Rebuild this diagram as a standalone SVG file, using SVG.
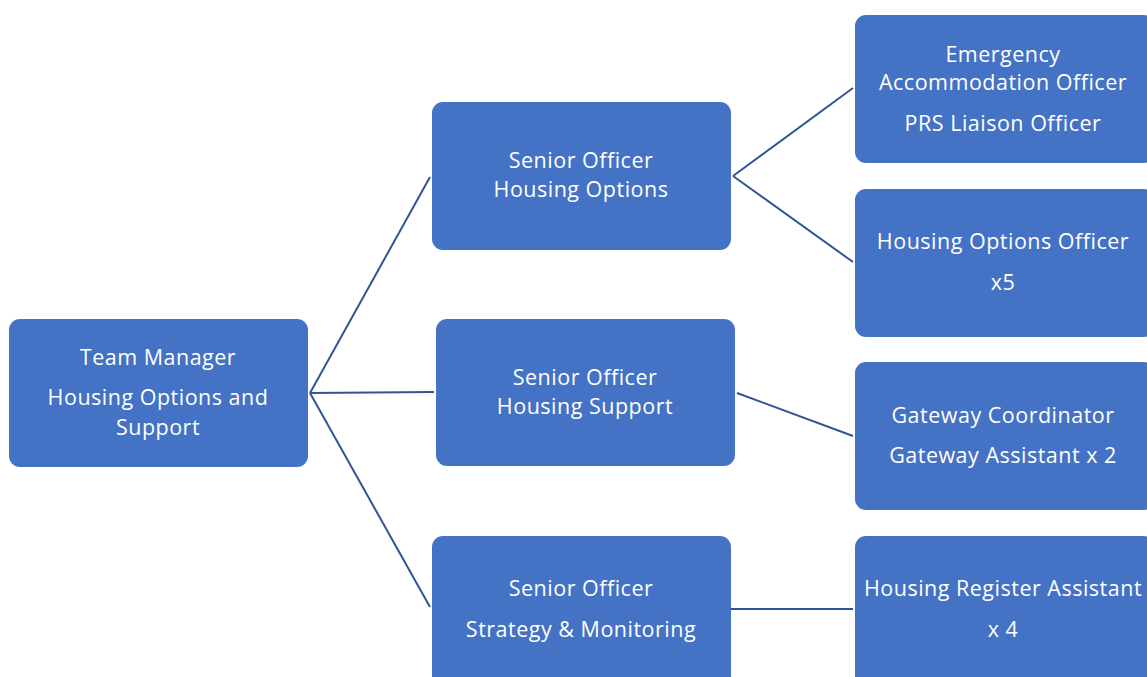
<svg xmlns="http://www.w3.org/2000/svg" width="1147" height="677" viewBox="0 0 1147 677">
<style>
.box{fill:#4472C4;}
.t{font-family:"Open Sans","Liberation Sans",sans-serif;font-size:21.5px;letter-spacing:0.5px;fill:#FFFFFF;text-anchor:middle;}
.c{stroke:#2F5597;stroke-width:2;fill:none;}
</style>
<rect width="1147" height="677" fill="#FFFFFF"/>
<g id="connectors">
<line class="c" x1="310" y1="393" x2="430" y2="177"/>
<line class="c" x1="310" y1="393" x2="434" y2="392"/>
<line class="c" x1="310" y1="393" x2="430" y2="607"/>
<line class="c" x1="733" y1="176" x2="853" y2="88"/>
<line class="c" x1="733" y1="176" x2="853" y2="262"/>
<line class="c" x1="737" y1="393" x2="853" y2="436"/>
<line class="c" x1="731" y1="609" x2="853" y2="609"/>
</g>
<g id="team-manager">
<rect class="box" x="9" y="319" width="299" height="148" rx="11"/>
<text class="t" x="158" y="365">Team Manager</text>
<text class="t" x="158" y="405">Housing Options and</text>
<text class="t" x="158" y="435">Support</text>
</g>
<g id="so-housing-options">
<rect class="box" x="432" y="102" width="299" height="148" rx="11"/>
<text class="t" x="581" y="168">Senior Officer</text>
<text class="t" x="581" y="197">Housing Options</text>
</g>
<g id="so-housing-support">
<rect class="box" x="436" y="319" width="299" height="147" rx="11"/>
<text class="t" x="585" y="385">Senior Officer</text>
<text class="t" x="585" y="414">Housing Support</text>
</g>
<g id="so-strategy">
<rect class="box" x="432" y="536" width="299" height="160" rx="11"/>
<text class="t" x="581" y="596">Senior Officer</text>
<text class="t" x="581" y="637">Strategy &amp; Monitoring</text>
</g>
<g id="emergency">
<rect class="box" x="855" y="15" width="300" height="148" rx="11"/>
<text class="t" x="1003" y="62">Emergency</text>
<text class="t" x="1003" y="90">Accommodation Officer</text>
<text class="t" x="1003" y="131">PRS Liaison Officer</text>
</g>
<g id="housing-options-officer">
<rect class="box" x="855" y="189" width="300" height="148" rx="11"/>
<text class="t" x="1003" y="249">Housing Options Officer</text>
<text class="t" x="1003" y="290">x5</text>
</g>
<g id="gateway">
<rect class="box" x="855" y="362" width="300" height="148" rx="11"/>
<text class="t" x="1003" y="423">Gateway Coordinator</text>
<text class="t" x="1003" y="463">Gateway Assistant x 2</text>
</g>
<g id="housing-register">
<rect class="box" x="855" y="536" width="300" height="160" rx="11"/>
<text class="t" x="1003" y="596">Housing Register Assistant</text>
<text class="t" x="1003" y="637">x 4</text>
</g>
</svg>
